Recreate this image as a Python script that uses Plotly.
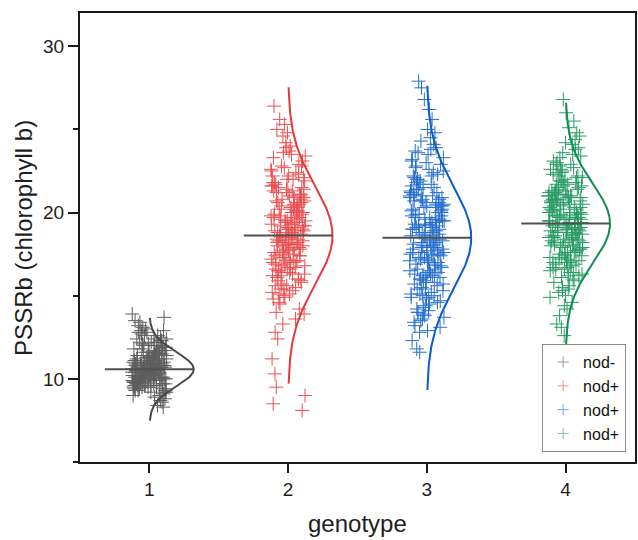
import plotly.graph_objects as go
import numpy as np

# ---------------- data ----------------
genotypes = [1, 2, 3, 4]
legend_labels = ["nod-", "nod+", "nod+", "nod+"]
x_title = "genotype"
y_title = "PSSRb (chlorophyll b)"

pssrb_g1 = [
    10.4, 11.2, 9.8, 10.9, 12.1, 10.1, 9.5, 11.6, 10.7, 10.3, 13.2, 9.9, 10.5, 11.0, 8.9, 10.8, 11.9, 10.2, 9.7, 12.6,
    10.6, 9.4, 11.3, 10.0, 12.3, 10.9, 9.6, 11.1, 10.4, 13.7, 9.2, 10.7, 11.5, 10.3, 9.9, 12.0, 10.1, 8.6, 11.4, 10.8,
    11.7, 10.2, 9.3, 10.6, 12.8, 10.0, 11.0, 9.8, 10.5, 11.8, 9.1, 10.9, 12.4, 10.3, 9.6, 11.2, 10.7, 13.4, 10.1, 9.5,
    10.4, 11.6, 9.9, 10.8, 12.2, 10.0, 9.0, 11.3, 10.6, 10.2, 12.9, 9.7, 11.1, 10.5, 8.4, 10.9, 11.9, 10.3, 9.4, 12.5,
    10.7, 9.8, 11.4, 10.1, 11.0, 10.5, 9.6, 12.0, 10.3, 13.9, 9.9, 10.8, 11.5, 10.2, 9.3, 11.7, 10.6, 8.8, 11.2, 10.0,
    11.8, 10.4, 9.5, 10.9, 12.7, 10.1, 11.3, 9.7, 10.6, 11.0, 9.2, 10.4, 12.2, 10.7, 9.8, 11.1, 10.3, 13.1, 10.0, 9.6,
    10.5, 11.5, 9.9, 10.2, 12.4, 10.8, 9.4, 11.6, 10.4, 10.9, 12.0, 9.7, 11.3, 10.1, 8.7, 10.6, 11.8, 10.3, 9.5, 12.9,
    10.8, 9.9, 11.0, 10.2, 11.4, 10.6, 9.7, 12.3, 10.0, 13.5, 9.6, 10.7, 11.7, 10.4, 9.3, 11.2, 10.9, 9.0, 11.5, 10.1,
    11.9, 10.3, 9.8, 10.5, 12.6, 10.0, 11.1, 9.5, 10.7, 11.3, 9.4, 10.2, 12.1, 10.8, 9.9, 11.4, 10.4, 13.0, 10.6, 9.7,
    10.3, 11.7, 10.0, 10.9, 12.2, 10.5, 9.2, 11.0, 10.1, 10.7, 12.8, 9.8, 11.6, 10.4, 8.3, 10.8, 11.2, 10.6, 9.6, 12.4,
]
pssrb_g2 = [
    18.4, 20.1, 16.9, 19.3, 22.0, 17.5, 15.8, 21.2, 18.9, 17.1, 24.6, 16.3, 19.7, 20.6, 14.2, 18.1, 21.8, 17.8, 15.4, 23.1,
    19.0, 16.6, 20.4, 17.3, 22.6, 18.7, 15.1, 21.0, 19.5, 26.4, 13.6, 18.2, 20.9, 17.0, 16.1, 22.3, 18.5, 11.2, 20.2, 19.2,
    21.5, 17.7, 15.6, 19.8, 23.6, 16.8, 20.0, 18.3, 17.4, 21.4, 14.8, 19.1, 22.8, 18.0, 16.4, 20.7, 19.4, 25.3, 17.2, 15.3,
    18.6, 21.1, 16.7, 19.9, 22.4, 17.6, 13.9, 20.3, 18.8, 17.9, 24.2, 16.2, 20.5, 19.6, 8.1, 18.4, 21.7, 17.1, 15.0, 23.4,
    19.3, 16.5, 20.8, 17.8, 21.3, 18.9, 15.7, 22.1, 18.1, 25.0, 16.0, 19.5, 21.6, 17.5, 14.5, 20.6, 19.0, 10.3, 20.1, 17.3,
    21.9, 18.5, 15.9, 19.7, 23.9, 17.0, 20.4, 16.8, 19.2, 21.0, 14.0, 18.2, 22.7, 19.8, 16.3, 20.2, 18.7, 24.8, 17.6, 15.5,
    18.3, 21.4, 16.6, 18.0, 22.9, 19.4, 15.2, 20.9, 18.6, 19.9, 22.2, 16.9, 20.3, 17.7, 9.0, 18.8, 21.5, 17.4, 15.6, 23.3,
    19.6, 16.4, 20.0, 17.2, 21.2, 18.4, 14.9, 22.5, 17.9, 25.6, 15.9, 19.1, 21.8, 18.1, 13.3, 20.7, 19.3, 12.4, 20.5, 17.1,
    22.2, 18.6, 16.2, 19.0, 23.7, 17.4, 20.6, 15.4, 19.5, 21.3, 14.6, 17.8, 22.0, 19.7, 16.7, 20.8, 18.9, 24.0, 18.2, 16.0,
    18.0, 21.6, 17.0, 19.8, 22.8, 18.5, 12.8, 20.1, 17.6, 19.2, 23.5, 16.5, 21.1, 18.7, 8.5, 19.4, 20.4, 18.3, 15.1, 9.5,
]
pssrb_g3 = [
    18.2, 20.4, 16.5, 19.1, 22.3, 17.3, 14.9, 21.0, 18.8, 16.8, 25.0, 15.7, 19.6, 20.8, 13.7, 17.9, 22.0, 17.5, 14.4, 23.2,
    18.9, 16.0, 20.2, 17.0, 22.7, 18.5, 14.3, 21.3, 19.4, 27.9, 13.1, 17.7, 21.1, 16.6, 15.5, 22.5, 18.3, 11.8, 20.0, 19.2,
    21.6, 17.4, 15.1, 19.8, 23.5, 16.3, 20.5, 18.0, 17.1, 21.7, 14.0, 19.0, 23.0, 17.8, 15.8, 20.7, 19.5, 26.2, 16.9, 14.6,
    18.6, 21.2, 16.2, 19.9, 22.9, 17.2, 13.4, 20.3, 18.7, 17.6, 24.5, 15.4, 20.6, 19.3, 12.3, 18.1, 21.9, 16.7, 14.1, 23.7,
    19.2, 15.9, 20.9, 17.5, 21.4, 18.4, 14.8, 22.2, 17.9, 27.5, 15.3, 19.7, 21.8, 17.0, 13.8, 20.1, 18.8, 12.8, 20.4, 16.4,
    22.1, 18.2, 15.0, 19.5, 23.8, 16.6, 20.8, 16.1, 19.0, 21.5, 13.5, 17.8, 22.6, 19.9, 15.6, 20.3, 18.6, 25.6, 17.3, 14.7,
    18.0, 21.1, 16.8, 17.6, 23.3, 19.3, 14.2, 20.6, 18.5, 19.8, 22.4, 16.0, 20.0, 17.1, 13.2, 18.9, 21.5, 16.5, 15.2, 23.6,
    19.6, 15.8, 20.2, 16.9, 21.0, 18.3, 14.5, 22.8, 17.7, 26.8, 15.1, 19.1, 21.7, 17.4, 12.9, 20.7, 19.4, 13.6, 20.5, 16.3,
    22.0, 18.7, 15.4, 19.0, 24.1, 17.2, 20.9, 14.9, 19.7, 21.2, 13.9, 17.5, 22.2, 19.2, 16.1, 20.4, 18.1, 24.8, 17.9, 15.7,
    18.4, 21.4, 16.4, 19.6, 23.1, 18.0, 11.6, 20.1, 17.0, 19.3, 23.9, 16.2, 21.0, 18.6, 14.0, 19.5, 20.6, 17.6, 15.0, 24.3,
]
pssrb_g4 = [
    19.2, 20.8, 17.6, 19.9, 22.1, 18.3, 16.9, 21.4, 19.6, 18.0, 24.1, 17.2, 20.3, 21.0, 15.8, 18.8, 22.5, 18.5, 16.4, 23.0,
    19.7, 17.4, 20.6, 18.1, 22.8, 19.4, 16.2, 21.2, 20.0, 26.8, 14.9, 18.7, 21.5, 17.8, 17.0, 22.3, 19.1, 13.1, 20.5, 19.8,
    21.7, 18.4, 16.6, 20.2, 23.5, 17.5, 20.9, 19.0, 18.2, 21.8, 15.5, 19.5, 22.9, 18.9, 17.1, 21.1, 20.1, 25.5, 18.0, 16.3,
    19.3, 21.3, 17.7, 20.4, 22.6, 18.6, 15.2, 20.7, 19.6, 18.5, 24.4, 17.3, 21.0, 20.0, 13.3, 19.0, 22.0, 18.3, 16.0, 23.3,
    19.9, 17.2, 21.1, 18.7, 21.6, 19.5, 16.8, 22.4, 18.9, 26.0, 17.0, 20.3, 21.9, 18.2, 15.6, 20.8, 19.7, 12.6, 20.6, 18.0,
    22.2, 19.1, 16.7, 20.1, 23.8, 17.9, 21.2, 17.6, 19.8, 21.5, 15.0, 18.6, 22.7, 20.5, 17.4, 20.9, 19.3, 24.8, 18.4, 16.5,
    19.0, 21.4, 17.8, 18.8, 23.1, 20.2, 16.1, 21.0, 19.4, 20.7, 22.2, 17.5, 20.6, 18.5, 13.8, 19.6, 21.7, 18.1, 16.9, 23.6,
    20.3, 17.1, 20.8, 18.3, 21.3, 19.2, 15.9, 22.6, 18.7, 25.1, 16.6, 19.9, 21.8, 18.9, 14.6, 21.1, 20.0, 14.2, 20.4, 17.7,
    22.4, 19.5, 17.0, 19.8, 23.9, 18.2, 21.3, 16.4, 20.2, 21.6, 15.4, 18.6, 22.1, 20.6, 17.3, 20.9, 19.1, 24.6, 19.0, 16.7,
    19.3, 21.9, 17.9, 20.5, 22.9, 19.4, 14.4, 20.7, 18.4, 19.7, 23.4, 17.6, 21.2, 19.6, 15.3, 20.0, 21.0, 18.8, 16.2, 24.2,
]
# fitted normal-distribution parameters
fit_means = [10.58, 18.62, 18.48, 19.34]
fit_sds = [1.03, 2.97, 3.05, 2.42]

# ---------------- style ----------------
colors = ["#484848", "#e8393a", "#0a5cc6", "#0d8f50"]
groups = [pssrb_g1, pssrb_g2, pssrb_g3, pssrb_g4]
jitter_half = 0.125
curve_peak = 0.32
mean_half = 0.32
FONT = "Liberation Sans, Arial, sans-serif"
AX = "#1a1a1a"
TXT = "#1e1e1e"

fig = go.Figure()

# jittered points (deterministic low-discrepancy jitter for layout)
for gi, (g, vals, col) in enumerate(zip(genotypes, groups, colors)):
    n = len(vals)
    phase = 0.17 * gi
    offs = [(((i * 0.6180339887 + phase) % 1.0) - 0.5) * 2 * jitter_half for i in range(n)]
    xs = [g + o for o in offs]
    fig.add_trace(go.Scatter(
        x=xs, y=vals, mode="markers", opacity=0.88,
        marker=dict(symbol="cross-thin-open", size=10, color=col,
                    line=dict(width=1, color=col)),
        showlegend=False,
    ))

# normal curves and mean lines
for g, m, s, col in zip(genotypes, fit_means, fit_sds, colors):
    yy = np.linspace(m - 3 * s, m + 3 * s, 200)
    xx = g + curve_peak * np.exp(-0.5 * ((yy - m) / s) ** 2)
    fig.add_trace(go.Scatter(x=xx, y=yy, mode="lines", line=dict(color=col, width=2),
                             showlegend=False, hoverinfo="skip"))
for g, m in zip(genotypes, fit_means):
    fig.add_trace(go.Scatter(x=[g - mean_half, g + mean_half], y=[m, m], mode="lines",
                             line=dict(color="#505050", width=2),
                             showlegend=False, hoverinfo="skip"))

# legend entries
for col, lab in zip(colors, legend_labels):
    fig.add_trace(go.Scatter(
        x=[None], y=[None], mode="markers", name=lab, opacity=0.55,
        marker=dict(symbol="cross-thin-open", size=8, color=col, line=dict(width=1, color=col)),
        showlegend=True,
    ))

fig.update_layout(
    width=638, height=540,
    margin=dict(l=80, r=1, t=13, b=78),
    paper_bgcolor="white", plot_bgcolor="white",
    font=dict(family=FONT, color=TXT),
    legend=dict(x=0.984, y=0.022, xanchor="right", yanchor="bottom",
                bordercolor="#8a8a8a", borderwidth=1, bgcolor="white",
                font=dict(size=16, family=FONT, color="#111111"),
                tracegroupgap=0, itemwidth=30),
    annotations=[
        dict(text=x_title, xref="paper", yref="paper", x=0.5, y=-0.138,
             xanchor="center", yanchor="middle", showarrow=False,
             font=dict(size=24, family=FONT, color=TXT)),
        dict(text=y_title, xref="paper", yref="paper", x=-0.102, y=0.5,
             xanchor="center", yanchor="middle", showarrow=False, textangle=-90,
             font=dict(size=24, family=FONT, color=TXT)),
    ],
)
fig.update_xaxes(
    range=[0.5, 4.5], tickvals=genotypes, ticktext=[str(g) for g in genotypes],
    ticks="outside", ticklen=9, tickwidth=1.5, tickcolor=AX,
    showline=True, linecolor=AX, linewidth=2, mirror=True,
    showgrid=False, zeroline=False,
    tickfont=dict(size=19, family=FONT, color=TXT),
)
fig.update_yaxes(
    range=[5, 32], tickvals=[10, 20, 30],
    ticks="outside", ticklen=10, tickwidth=1.5, tickcolor=AX,
    minor=dict(tickvals=[5, 15, 25], ticks="outside", ticklen=5, tickwidth=1.5, tickcolor=AX),
    showline=True, linecolor=AX, linewidth=2, mirror=True,
    showgrid=False, zeroline=False,
    tickfont=dict(size=19, family=FONT, color=TXT),
)

fig.write_html("out.html")
